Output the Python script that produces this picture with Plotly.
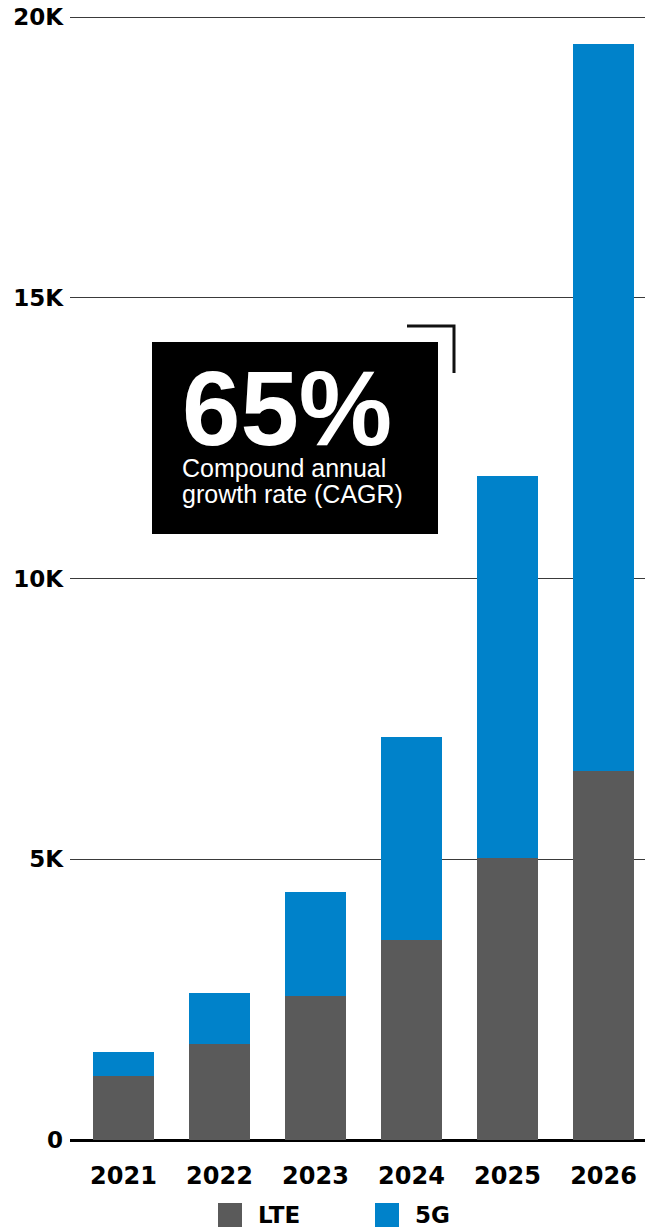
import plotly.graph_objects as go

# ---- data ----
years = ["2021", "2022", "2023", "2024", "2025", "2026"]
lte = [1140, 1710, 2560, 3560, 5020, 6570]
g5 = [430, 910, 1860, 3620, 6810, 12950]
series_names = ["LTE", "5G"]
y_tickvals = [0, 5000, 10000, 15000, 20000]
y_ticktext = ["0", "5K", "10K", "15K", "20K"]
cagr_value = "65%"
cagr_lines = ["Compound annual", "growth rate (CAGR)"]

# ---- styling ----
W, H = 645, 1228
L, R, T, B = 70, 0, 16, 88
PW, PH = W - L - R, H - T - B
C_LTE = "#5a5a5a"
C_5G = "#0082ca"
AXFONT = dict(family="DejaVu Sans", size=23, color="#000000", weight="bold")


def px(x):
    return (x - L) / PW


def py(y):
    return (H - B - y) / PH


fig = go.Figure()
fig.add_trace(go.Bar(x=years, y=lte, name=series_names[0], marker=dict(color=C_LTE, line=dict(width=0))))
fig.add_trace(go.Bar(x=years, y=g5, name=series_names[1], marker=dict(color=C_5G, line=dict(width=0))))

shapes = []
annotations = []

# callout box
shapes.append(dict(type="rect", xref="paper", yref="paper", x0=px(152), x1=px(438), y0=py(534), y1=py(342),
                   fillcolor="#000000", line=dict(width=0), layer="above"))
shapes.append(dict(type="path", xref="paper", yref="paper",
                   path=f"M {px(407)},{py(326)} L {px(454)},{py(326)} L {px(454)},{py(373)}",
                   line=dict(color="#111111", width=3), layer="above"))
annotations.append(dict(xref="paper", yref="paper", x=px(180), y=py(408), xanchor="left", yanchor="middle",
                        text=f"<b>{cagr_value}</b>", showarrow=False,
                        font=dict(family="Liberation Sans", size=105, color="#ffffff")))
for i, line in enumerate(cagr_lines):
    annotations.append(dict(xref="paper", yref="paper", x=px(180), y=py(468 + 26 * i), xanchor="left",
                            yanchor="middle", text=line, showarrow=False,
                            font=dict(family="Liberation Sans", size=25, color="#ffffff")))

# legend (manual, large swatches)
for name, col, sx in [(series_names[0], C_LTE, 218), (series_names[1], C_5G, 375)]:
    shapes.append(dict(type="rect", xref="paper", yref="paper", x0=px(sx), x1=px(sx + 24),
                       y0=py(1227), y1=py(1203), fillcolor=col, line=dict(width=0)))
    annotations.append(dict(xref="paper", yref="paper", x=px(sx + 38), y=py(1215), xanchor="left",
                            yanchor="middle", text=name, showarrow=False, font=AXFONT))

fig.update_layout(
    width=W, height=H,
    margin=dict(l=L, r=R, t=T, b=B, pad=0),
    barmode="stack", bargap=0.365,
    plot_bgcolor="#ffffff", paper_bgcolor="#ffffff",
    showlegend=False,
    shapes=shapes, annotations=annotations,
    xaxis=dict(type="category", range=[-0.557, 5.432], showgrid=False, showline=False, zeroline=False,
               ticks="", tickfont=dict(family="DejaVu Sans", size=24, color="#000000", weight="bold"),
               ticklabelstandoff=19, fixedrange=True),
    yaxis=dict(range=[0, 20020], tickvals=y_tickvals, ticktext=y_ticktext, showgrid=True,
               gridcolor="#3a3a3a", gridwidth=1, zeroline=True, zerolinecolor="#000000", zerolinewidth=2.5,
               showline=False, ticks="", tickfont=AXFONT, ticklabelstandoff=6, fixedrange=True),
)

fig.write_html("out.html", config={"displayModeBar": False},
               post_script="document.body.style.margin='0';document.body.style.overflow='hidden';")
